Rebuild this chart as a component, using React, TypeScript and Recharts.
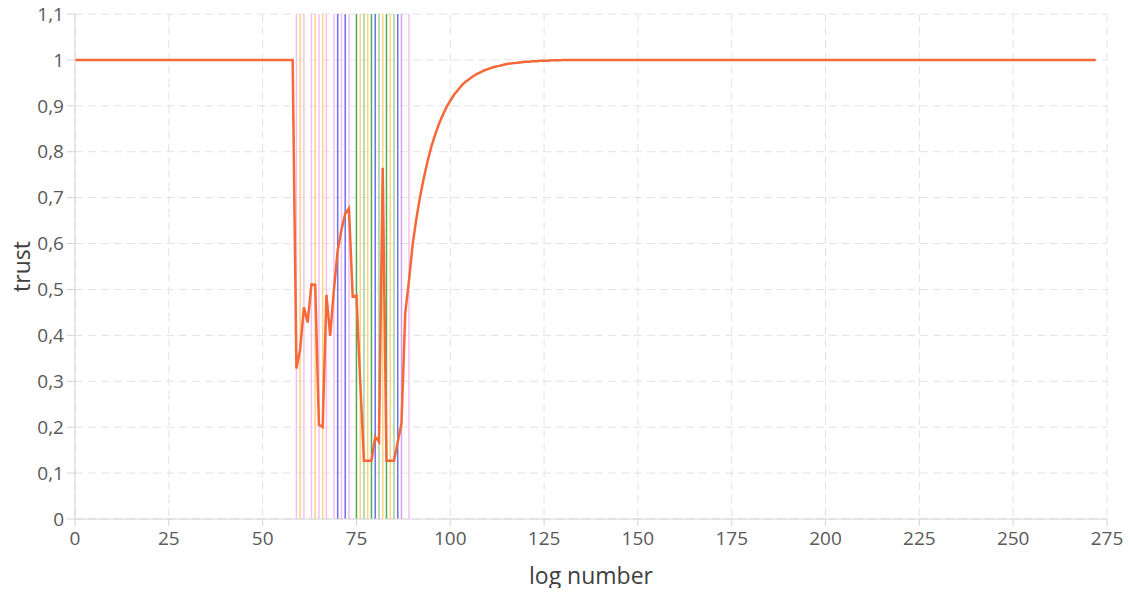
import { CartesianGrid, Label, Line, LineChart, ReferenceLine, XAxis, YAxis } from "recharts";

// trust value for each log number 0..272
const trust = [
  1, 1, 1, 1, 1, 1, 1, 1, 1, 1,
  1, 1, 1, 1, 1, 1, 1, 1, 1, 1,
  1, 1, 1, 1, 1, 1, 1, 1, 1, 1,
  1, 1, 1, 1, 1, 1, 1, 1, 1, 1,
  1, 1, 1, 1, 1, 1, 1, 1, 1, 1,
  1, 1, 1, 1, 1, 1, 1, 1, 1,
  // 59..90
  0.328, 0.37, 0.461, 0.428, 0.511, 0.51, 0.205, 0.2, 0.488, 0.399,
  0.5, 0.585, 0.63, 0.665, 0.677, 0.484, 0.487, 0.3, 0.127, 0.127,
  0.127, 0.179, 0.168, 0.765, 0.127, 0.127, 0.127, 0.168, 0.208, 0.448,
  0.52, 0.6,
  // 91..129 recovery
  0.656, 0.704, 0.745, 0.781, 0.812, 0.838, 0.861, 0.88, 0.897, 0.911,
  0.924, 0.934, 0.944, 0.952, 0.958, 0.964, 0.969, 0.973, 0.977, 0.98,
  0.983, 0.985, 0.987, 0.989, 0.991, 0.992, 0.993, 0.994, 0.995, 0.996,
  0.996, 0.997, 0.997, 0.998, 0.998, 0.998, 0.999, 0.999, 0.999,
  // 130..272
  1, 1, 1, 1, 1, 1, 1, 1, 1, 1,
  1, 1, 1, 1, 1, 1, 1, 1, 1, 1,
  1, 1, 1, 1, 1, 1, 1, 1, 1, 1,
  1, 1, 1, 1, 1, 1, 1, 1, 1, 1,
  1, 1, 1, 1, 1, 1, 1, 1, 1, 1,
  1, 1, 1, 1, 1, 1, 1, 1, 1, 1,
  1, 1, 1, 1, 1, 1, 1, 1, 1, 1,
  1, 1, 1, 1, 1, 1, 1, 1, 1, 1,
  1, 1, 1, 1, 1, 1, 1, 1, 1, 1,
  1, 1, 1, 1, 1, 1, 1, 1, 1, 1,
  1, 1, 1, 1, 1, 1, 1, 1, 1, 1,
  1, 1, 1, 1, 1, 1, 1, 1, 1, 1,
  1, 1, 1, 1, 1, 1, 1, 1, 1, 1,
  1, 1, 1, 1, 1, 1, 1, 1, 1, 1,
  1, 1, 1,
];

// marked log events (vertical lines) and their kind
const eventLogs = [59, 60, 61, 63, 64, 65, 66, 67, 69, 70, 71, 72, 73, 75, 76, 77, 78, 79, 80, 81, 82, 83, 84, 85, 86, 87, 89];
const eventKinds = ["a", "b", "a", "a", "b", "a", "b", "a", "a", "c", "a", "c", "a", "d", "b", "e", "b", "d", "c", "e", "b", "d", "b", "e", "c", "f", "a"];

const xTicks = [0, 25, 50, 75, 100, 125, 150, 175, 200, 225, 250, 275];
const yTicks = [0, 0.1, 0.2, 0.3, 0.4, 0.5, 0.6, 0.7, 0.8, 0.9, 1, 1.1];
const xMinor = Array.from({ length: 56 }, (_, i) => i * 5);
const yMinor = Array.from({ length: 56 }, (_, i) => Math.round(i * 2) / 100);

const kindColor: Record<string, string> = {
  a: "#f3c1ef",
  b: "#ffd27f",
  c: "#6e6ef0",
  d: "#4cab4c",
  e: "#9fd09f",
  f: "#d3a0ec",
};

const data = trust.map((t, i) => ({ log: i, trust: t }));

const font = "'Open Sans', 'Noto Sans', sans-serif";
const tickStyle = { fontSize: 19, fill: "#595959", fontFamily: font };
const axisGrey = "#d4d4d4";

export default function App() {
  // cancel the body margin so the chart uses the whole window
  return (
    <div style={{ margin: -8, width: 1131, height: 596 }}>
      <LineChart
        width={1131}
        height={596}
        data={data}
        margin={{ top: 14, right: 24, left: 8, bottom: 0 }}
      >
        <CartesianGrid stroke="#e2e2e2" strokeDasharray="8 5" />
        <XAxis
          dataKey="log"
          type="number"
          domain={[0, 275]}
          ticks={xTicks}
          height={77}
          tick={tickStyle}
          tickSize={7}
          tickMargin={6}
          stroke={axisGrey}
        >
          <Label
            value="log number"
            position="insideBottom"
            offset={12}
            style={{ fontSize: 23, fill: "#404040", fontFamily: font }}
          />
        </XAxis>
        <XAxis
          xAxisId="minor"
          dataKey="log"
          type="number"
          domain={[0, 275]}
          ticks={xMinor}
          height={0}
          tick={false}
          tickSize={4}
          axisLine={false}
          stroke={axisGrey}
        />
        <YAxis
          type="number"
          domain={[0, 1.1]}
          ticks={yTicks}
          width={67}
          tick={tickStyle}
          tickSize={8}
          tickMargin={3}
          stroke={axisGrey}
          tickFormatter={(v: number) => String(Math.round(v * 10) / 10).replace(".", ",")}
        >
          <Label
            value="trust"
            angle={-90}
            position="insideLeft"
            offset={14}
            style={{ fontSize: 23, fill: "#404040", fontFamily: font, textAnchor: "middle" }}
          />
        </YAxis>
        <YAxis
          yAxisId="minor"
          type="number"
          domain={[0, 1.1]}
          ticks={yMinor}
          width={0}
          tick={false}
          tickSize={4}
          axisLine={false}
          stroke={axisGrey}
        />
        {eventLogs.map((x, i) => (
          <ReferenceLine
            key={x}
            x={x}
            stroke={kindColor[eventKinds[i]]}
            strokeWidth={1.5}
          />
        ))}
        <Line
          dataKey="trust"
          stroke="#f4683a"
          strokeWidth={2.5}
          dot={false}
          activeDot={false}
          isAnimationActive={false}
        />
      </LineChart>
    </div>
  );
}
